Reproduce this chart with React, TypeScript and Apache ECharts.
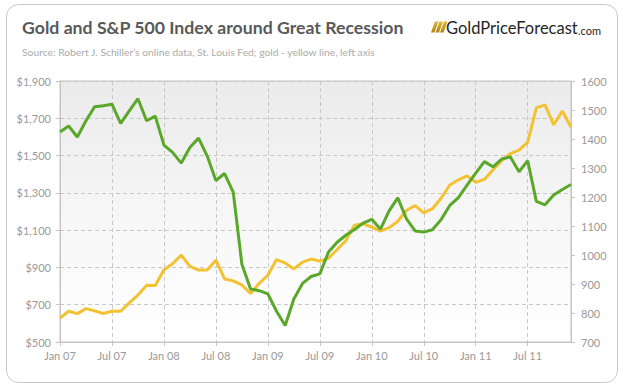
import React, { useEffect, useRef } from "react";
import * as echarts from "echarts";

const months = ["Jan", "Feb", "Mar", "Apr", "May", "Jun", "Jul", "Aug", "Sep", "Oct", "Nov", "Dec"];
const years = ["07", "08", "09", "10", "11"];
const categories: string[] = [];
years.forEach((y) => months.forEach((m) => categories.push(m + " " + y)));

const goldPrice = [
  629, 665, 652, 679, 667, 653, 665, 665, 710, 752, 804, 803,
  888, 920, 966, 906, 886, 886, 939, 838, 828, 806, 760, 815,
  858, 942, 924, 892, 928, 945, 934, 949, 996, 1043, 1127, 1134,
  1117, 1095, 1113, 1148, 1205, 1232, 1193, 1215, 1271, 1342, 1370, 1391,
  1356, 1372, 1424, 1473, 1510, 1529, 1572, 1756, 1772, 1665, 1739, 1652,
];

const sp500 = [
  1424, 1445, 1407, 1463, 1511, 1515, 1520, 1454, 1497, 1539, 1463, 1479,
  1379, 1354, 1317, 1371, 1403, 1341, 1257, 1281, 1217, 968, 883, 877,
  866, 806, 757, 848, 902, 926, 935, 1010, 1044, 1068, 1088, 1110,
  1123, 1089, 1152, 1197, 1125, 1083, 1079, 1087, 1122, 1171, 1198, 1241,
  1282, 1322, 1304, 1331, 1338, 1287, 1325, 1185, 1173, 1207, 1226, 1243,
];

const titleText = "Gold and S&P 500 Index around Great Recession";
const subtitleText = "Source: Robert J. Schiller\u2019s online data, St. Louis Fed; gold - yellow line, left axis";

const FONT = "Lato, 'Open Sans', sans-serif";

function slash(dx: number) {
  return {
    type: "polygon",
    shape: {
      points: [
        [431 + dx, 32.5],
        [434.5 + dx, 32.5],
        [438.5 + dx, 21.5],
        [435 + dx, 21.5],
      ],
    },
    style: {
      fill: new echarts.graphic.LinearGradient(0, 0, 0, 1, [
        { offset: 0, color: "#e2b83c" },
        { offset: 1, color: "#b08416" },
      ]),
    },
    silent: true,
  };
}

export default function App() {
  const ref = useRef<HTMLDivElement>(null);
  useEffect(() => {
    document.body.style.margin = "0";
    const chart = echarts.init(ref.current!, null, { renderer: "svg" });
    const dashed = { color: "#c8c8c8", type: [4, 3] as any, width: 1 };
    chart.setOption({
      animation: false,
      backgroundColor: "#fff",
      textStyle: { fontFamily: FONT },
      grid: {
        left: 60,
        right: 54,
        top: 81,
        bottom: 45,
        show: true,
        borderColor: "#c4c4c4",
        borderWidth: 1,
        backgroundColor: new echarts.graphic.LinearGradient(0, 0, 0, 1, [
          { offset: 0, color: "#ebebeb" },
          { offset: 0.6, color: "#f8f8f8" },
          { offset: 1, color: "#ffffff" },
        ]),
      },
      xAxis: {
        type: "category",
        data: categories,
        boundaryGap: false,
        axisLine: { lineStyle: { color: "#c4c4c4" } },
        axisTick: { interval: 5, length: 4, lineStyle: { color: "#c4c4c4" } },
        axisLabel: { interval: 5, color: "#999", fontSize: 11, margin: 8, fontFamily: FONT },
        splitLine: { show: true, interval: 5, lineStyle: dashed },
      },
      yAxis: [
        {
          type: "value",
          min: 500,
          max: 1900,
          interval: 200,
          position: "left",
          axisLine: { show: true, lineStyle: { color: "#c4c4c4" } },
          axisTick: { show: true, length: 4, lineStyle: { color: "#c4c4c4" } },
          axisLabel: {
            color: "#999",
            fontSize: 11,
            margin: 9,
            fontFamily: FONT,
            formatter: (v: number) => "$" + v.toLocaleString("en-US"),
          },
          splitLine: { show: true, lineStyle: dashed },
        },
        {
          type: "value",
          min: 700,
          max: 1600,
          interval: 100,
          position: "right",
          axisLine: { show: true, lineStyle: { color: "#c4c4c4" } },
          axisTick: { show: true, length: 4, lineStyle: { color: "#c4c4c4" } },
          axisLabel: {
            color: "#999",
            fontSize: 11,
            margin: 10,
            fontFamily: FONT,
            formatter: (v: number) => String(v),
          },
          splitLine: { show: false },
        },
      ],
      series: [
        {
          name: "Gold",
          type: "line",
          yAxisIndex: 0,
          data: goldPrice,
          showSymbol: false,
          lineStyle: { color: "#f3c232", width: 3 },
          itemStyle: { color: "#f3c232" },
        },
        {
          name: "S&P 500",
          type: "line",
          yAxisIndex: 1,
          data: sp500,
          showSymbol: false,
          lineStyle: { color: "#5aa82a", width: 3 },
          itemStyle: { color: "#5aa82a" },
        },
      ],
      graphic: [
        {
          type: "rect",
          shape: { x: 6.5, y: 4.5, width: 611, height: 378, r: 12 },
          style: { fill: "none", stroke: "#c9c9c9", lineWidth: 1 },
          silent: true,
          z: 100,
        },
        {
          type: "text",
          x: 22,
          y: 27,
          style: {
            text: titleText,
            font: "bold 17.7px " + FONT,
            fill: "#595959",
            verticalAlign: "middle",
          },
        },
        {
          type: "text",
          x: 22,
          y: 52,
          style: {
            text: subtitleText,
            font: "10.3px " + FONT,
            fill: "#ababab",
            verticalAlign: "middle",
          },
        },
        slash(0),
        slash(4.5),
        slash(9),
        {
          type: "text",
          x: 446,
          y: 27.5,
          style: {
            text: "GoldPriceForecast",
            font: "16.5px " + FONT,
            fill: "#262626",
            verticalAlign: "middle",
          },
        },
        {
          type: "text",
          x: 578,
          y: 30,
          style: {
            text: ".com",
            font: "11px " + FONT,
            fill: "#262626",
            verticalAlign: "middle",
          },
        },
      ],
    });
    return () => chart.dispose();
  }, []);
  return <div ref={ref} style={{ width: 625, height: 387 }} />;
}
